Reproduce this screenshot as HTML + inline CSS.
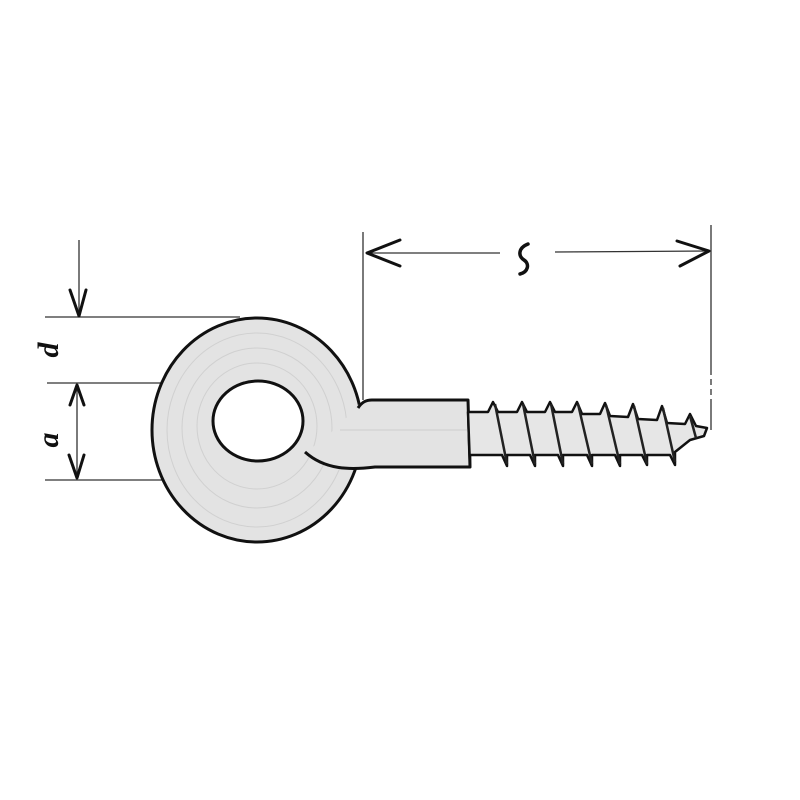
<!DOCTYPE html>
<html><head><meta charset="utf-8"><style>html,body{margin:0;padding:0;background:#fff}svg{display:block}</style></head>
<body>
<svg width="800" height="800" viewBox="0 0 800 800" xmlns="http://www.w3.org/2000/svg">
<rect width="800" height="800" fill="#fff"/>
<!-- dimension lines -->
<g stroke="#333" stroke-width="1.3" fill="none">
<line x1="45" y1="317" x2="240" y2="317"/>
<line x1="47" y1="383" x2="240" y2="383"/>
<line x1="45" y1="480" x2="200" y2="480"/>
<line x1="79" y1="240" x2="79" y2="316"/>
<line x1="77" y1="385" x2="77" y2="478"/>
<line x1="363" y1="232" x2="363" y2="400"/>
<line x1="711" y1="225" x2="711" y2="430" stroke-dasharray="150 4 6 4 6 4"/>
<line x1="366" y1="253" x2="500" y2="253"/>
<line x1="555" y1="252" x2="708" y2="251"/>
</g>
<g stroke="#111" stroke-width="3" fill="none" stroke-linecap="round" stroke-linejoin="round">
<path d="M70 290 L79 316 L86 290"/>
<path d="M70 405 L77 385 L84 405"/>
<path d="M69 455 L77 478 L84 455"/>
<path d="M400 240 L367 253 L400 266"/>
<path d="M677 241 L709 251 L680 266"/>
<path d="M528 244 C518 248 518 256 524 260 C530 264 528 272 520 274" stroke-width="3.5"/>
</g>
<text x="0" y="0" transform="translate(58,350) rotate(-90)" font-family="Liberation Serif, serif" font-style="italic" font-size="30" font-weight="bold" text-anchor="middle" fill="#111">d</text>
<text x="0" y="0" transform="translate(58,440) rotate(-90)" font-family="Liberation Serif, serif" font-style="italic" font-size="30" font-weight="bold" text-anchor="middle" fill="#111">a</text>
<!-- eye -->
<ellipse cx="257" cy="430" rx="105" ry="112" fill="#e3e3e3" stroke="#111" stroke-width="3"/>
<g stroke="#d0d0d0" stroke-width="1" fill="none">
<ellipse cx="257" cy="430" rx="90" ry="97"/>
<ellipse cx="257" cy="428" rx="75" ry="80"/>
<ellipse cx="257" cy="426" rx="60" ry="63"/>
</g>
<!-- shank -->
<path d="M358 405 C364 402 366 400 372 400 L468 400 L470 467 L375 467 C350 470 325 470 305 452 C325 440 345 420 358 405 Z" fill="#e3e3e3" stroke="none"/>
<path d="M358 408 C362 402 366 400 372 400 L468 400 L470 467 L375 467 C350 470 325 470 305 452" fill="none" stroke="#111" stroke-width="3" stroke-linejoin="round"/>
<path d="M340 430 L468 430" stroke="#ccc" stroke-width="1"/>
<ellipse cx="258" cy="421" rx="45" ry="40" fill="#fff" stroke="#111" stroke-width="3"/>
<!-- thread -->
<path d="M468 412 L488 412 L493 402 L498 412 L517 412 L522 402 L527 412 L545 412 L550 402 L555 412 L572 412 L577 402 L582 414 L600 414 L605 403 L610 416 L628 417 L633 404 L638 419 L657 420 L662 406 L667 423 L685 424 L690 414 L696 426 L707 428 L704 436 L690 440 L675 452 L675 465 L670 455 L647 455 L647 465 L642 455 L620 455 L620 466 L615 455 L592 455 L592 466 L587 455 L563 455 L563 466 L558 455 L535 455 L535 466 L530 455 L507 455 L507 466 L502 455 L470 455 L470 467 Z" fill="#e6e6e6" stroke="#111" stroke-width="2.5" stroke-linejoin="round"/>
<g stroke="#222" stroke-width="2.5" fill="none">
<path d="M495 404 L507 464"/><path d="M523 404 L535 464"/><path d="M551 404 L563 464"/><path d="M578 404 L592 464"/><path d="M606 405 L620 464"/><path d="M634 406 L647 464"/><path d="M663 408 L675 462"/><path d="M690 416 L696 438"/>
</g>
</svg>
</body></html>
